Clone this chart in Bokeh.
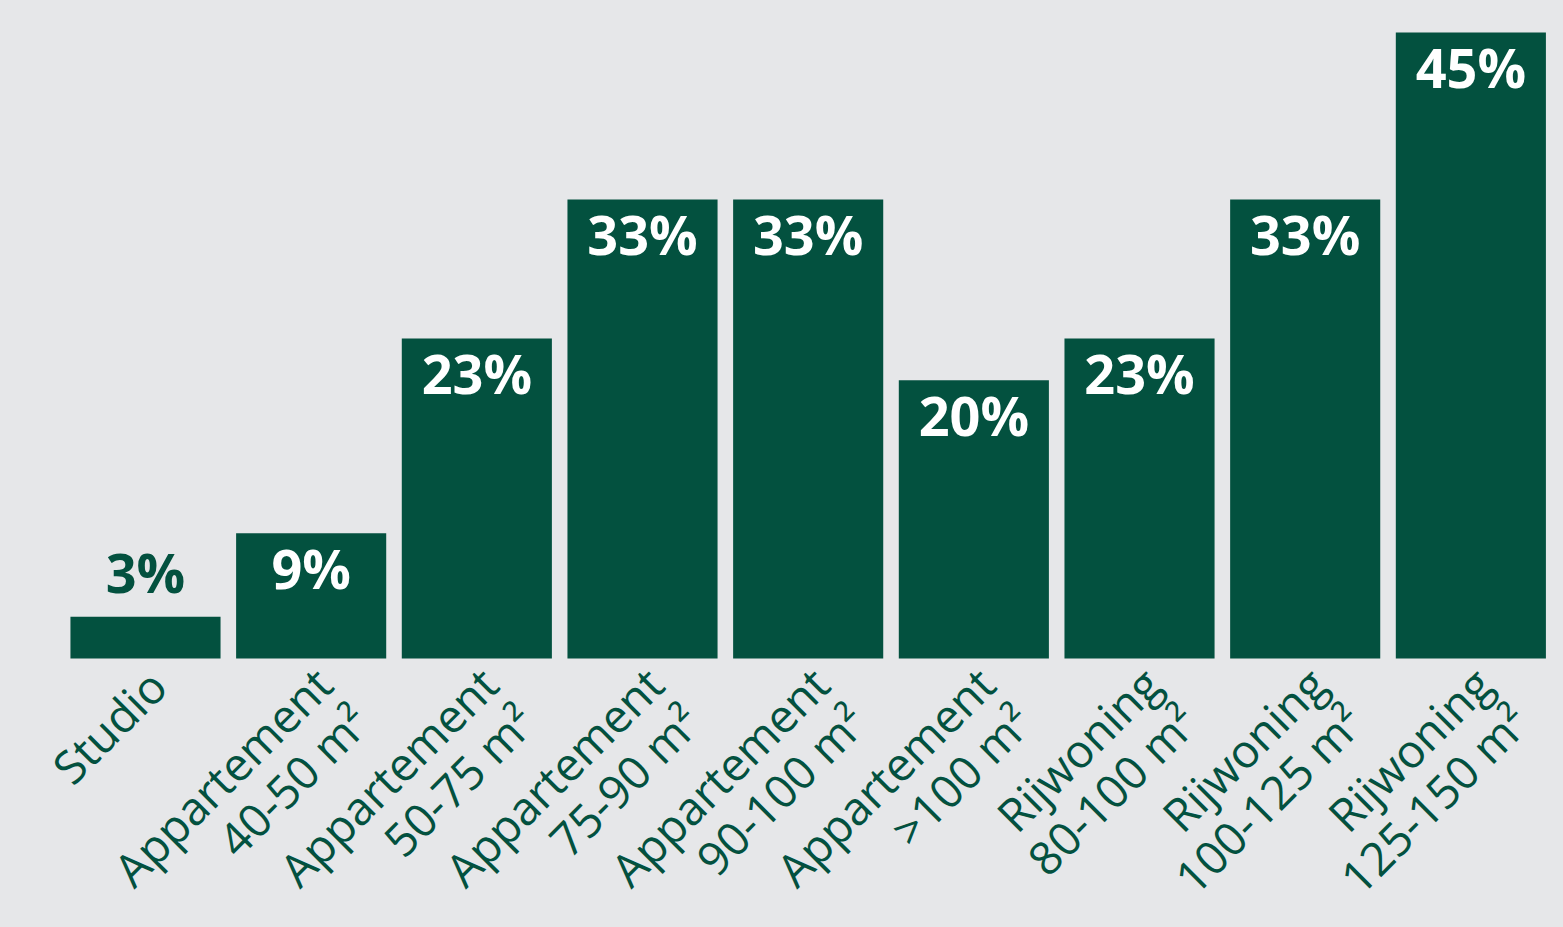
import math
from bokeh.plotting import figure
from bokeh.models import ColumnDataSource, Range1d
from bokeh.core.properties import value
from bokeh.embed import file_html
from bokeh.resources import INLINE

categories = [
    "Studio",
    "Appartement\n40-50 m²",
    "Appartement\n50-75 m²",
    "Appartement\n75-90 m²",
    "Appartement\n90-100 m²",
    "Appartement\n>100 m²",
    "Rijwoning\n80-100 m²",
    "Rijwoning\n100-125 m²",
    "Rijwoning\n125-150 m²",
]
values = [3, 9, 23, 33, 33, 20, 23, 33, 45]
value_labels = ["3%", "9%", "23%", "33%", "33%", "20%", "23%", "33%", "45%"]

GREEN = "#03513f"
BG = "#e6e7e9"

# category positions (one slot per category)
xpos = list(range(len(categories)))

# label placement: inside the bar (white) unless the bar is too short
inside = [v >= 5 for v in values]
label_y = [v - 2.5 if ins else v + 3.2 for v, ins in zip(values, inside)]
label_color = ["white" if ins else GREEN for ins in inside]

# category label offsets depend on number of lines
multi = ["\n" in c for c in categories]
cx_off = [-10 if m else -10 for m in multi]
cy_off = [-5 if m else -3 for m in multi]

src = ColumnDataSource(dict(x=xpos, cat=categories, val=values, lab=value_labels,
                            ly=label_y, lc=label_color,
                            base=[0.0] * len(categories),
                            cxo=cx_off, cyo=cy_off))

p = figure(x_range=Range1d(-0.8752, 8.4626),
           y_range=Range1d(-18.19, 47.3),
           width=1547, height=911, output_backend="svg", toolbar_location=None,
           background_fill_color=BG, border_fill_color=BG,
           min_border_left=0, min_border_right=0, min_border_top=0,
           min_border_bottom=0)
p.outline_line_color = None
p.grid.visible = False
p.xaxis.visible = False
p.yaxis.visible = False

p.vbar(x="x", top="val", width=0.906, source=src, fill_color=GREEN, line_color=None)
p.text(x="x", y="ly", text="lab", source=src, text_color="lc",
       text_font=value("Open Sans"), text_font_style="bold", text_font_size="54px",
       text_align="center", text_baseline="middle")

# category labels, rotated 45 degrees below the bars
p.text(x="x", y="base", text="cat", source=src, angle=math.pi / 4,
       x_offset="cxo", y_offset="cyo",
       text_color=GREEN, text_font=value("Open Sans"), text_font_size="46px",
       text_align="right", text_baseline="top", text_line_height=0.85)

template = """
{% block postamble %}
<style>html, body { background: #e6e7e9; }</style>
{% endblock %}
"""

open("out.html", "w").write(file_html(p, INLINE, template=template))
